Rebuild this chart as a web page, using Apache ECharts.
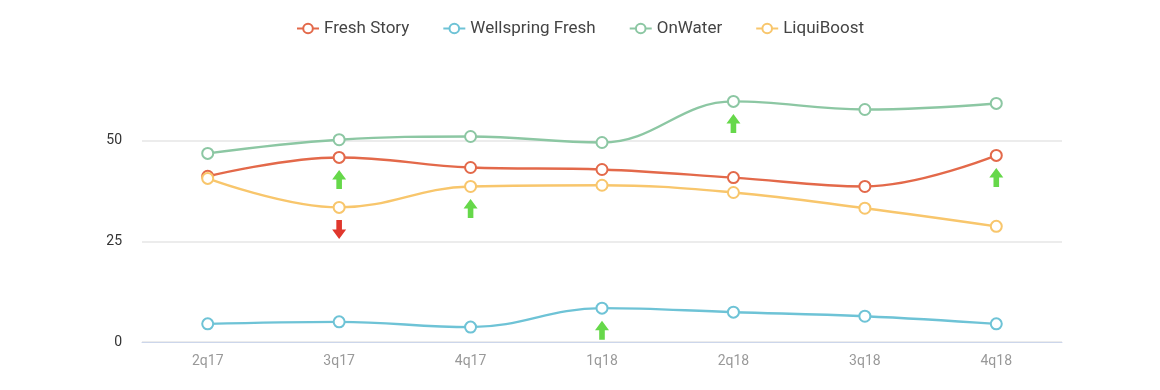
<!DOCTYPE html>
<html>
<head>
<meta charset="utf-8">
<script src="https://cdn.jsdelivr.net/npm/echarts@6/dist/echarts.min.js"></script>
<style>html,body{margin:0;padding:0;background:#fff}#c{width:1160px;height:390px}</style>
</head>
<body>
<div id="c"></div>
<script>
const categories = ['2q17','3q17','4q17','1q18','2q18','3q18','4q18'];
const freshStory = [41.1, 45.8, 43.3, 42.8, 40.8, 38.6, 46.3];
const wellspring = [4.5, 5.0, 3.7, 8.4, 7.4, 6.4, 4.5];
const onWater = [46.8, 50.2, 51.0, 49.5, 59.7, 57.7, 59.2];
const liquiBoost = [40.6, 33.4, 38.6, 38.9, 37.1, 33.2, 28.7];
const yTicks = [0, 25, 50];
// arrows: [seriesIndex, categoryIndex, direction]
const arrows = [
  [0, 1, 'up'], [0, 6, 'up'],
  [1, 3, 'up'],
  [2, 4, 'up'],
  [3, 1, 'down'], [3, 2, 'up']
];

const names = ['Fresh Story','Wellspring Fresh','OnWater','LiquiBoost'];
const colors = ['#e3694a','#6ec3d6','#8cc7a3','#f8c66c'];
const dataSets = [freshStory, wellspring, onWater, liquiBoost];
const upPath = 'path://M5,0 L10,6 L7,6 L7,12 L3,12 L3,6 L0,6 Z';
const downPath = 'path://M3,0 L7,0 L7,6 L10,6 L5,12 L0,6 L3,6 Z';

const series = dataSets.map((d, i) => ({
  name: names[i],
  type: 'line',
  smooth: 0.4,
  data: d,
  symbol: 'emptyCircle',
  symbolSize: 11,
  lineStyle: { width: 2.4, color: colors[i] },
  itemStyle: { color: colors[i], borderWidth: 2.4 },
  emphasis: { disabled: true },
  markPoint: {
    silent: true,
    animation: false,
    label: { show: false },
    data: arrows.filter(a => a[0] === i).map(a => ({
      coord: [a[1], d[a[1]]],
      symbol: a[2] === 'up' ? upPath : downPath,
      symbolSize: [14, 19],
      symbolOffset: [0, 22],
      itemStyle: { color: a[2] === 'up' ? '#66d84a' : '#e0372d' }
    }))
  }
}));

const chart = echarts.init(document.getElementById('c'), null, { renderer: 'canvas' });
chart.setOption({
  animation: false,
  color: colors,
  legend: {
    top: 15,
    left: 'center',
    itemWidth: 22,
    itemHeight: 12,
    itemGap: 33,
    textStyle: { fontFamily: 'Roboto', fontSize: 17, color: '#444' },
    data: names
  },
  grid: { left: 142, right: 98, top: 72, bottom: 48 },
  xAxis: {
    type: 'category',
    data: categories,
    boundaryGap: true,
    axisLine: { lineStyle: { color: '#ccd6eb', width: 1 } },
    axisTick: { alignWithLabel: true, length: 10, lineStyle: { color: '#ccd6eb' } },
    axisLabel: { fontFamily: 'Roboto', fontSize: 14, color: '#999', margin: 12 }
  },
  yAxis: {
    type: 'value',
    min: 0,
    max: 67,
    interval: 25,
    axisLine: { show: false },
    axisTick: { show: false },
    axisLabel: {
      fontFamily: 'Roboto', fontSize: 14, color: '#333', margin: 20,
      showMaxLabel: false,
      formatter: v => yTicks.includes(v) ? String(v) : ''
    },
    splitLine: { showMaxLine: false, lineStyle: { color: '#e6e6e6', width: 1.5 } }
  },
  series: series
});
</script>
</body>
</html>
